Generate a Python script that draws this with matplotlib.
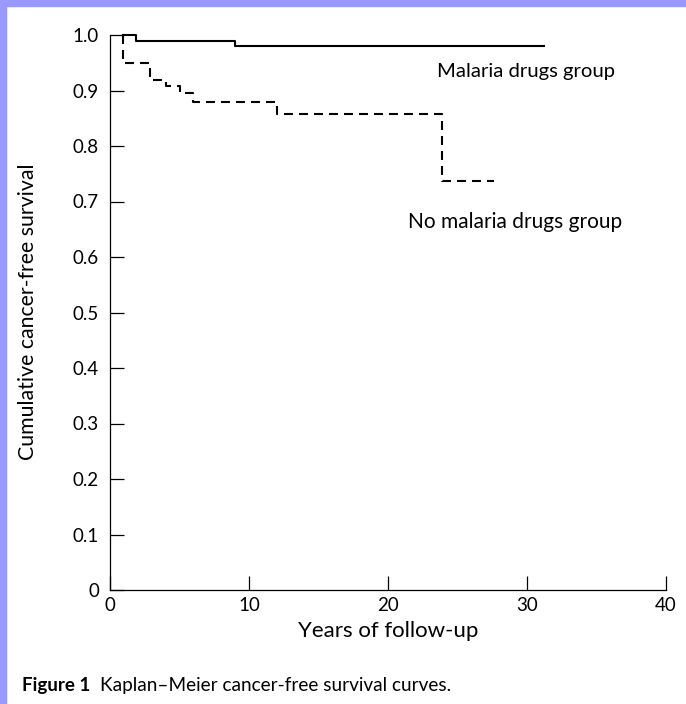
import matplotlib
matplotlib.use("Agg")
import matplotlib.pyplot as plt
from matplotlib.patches import Rectangle

# Data (Kaplan-Meier step points)
malaria_t = [0.9, 1.9, 9.0, 31.2]
malaria_s = [1.0, 0.99, 0.98, 0.98]

nomal_t = [0.95, 0.95, 2.9, 4.0, 5.0, 6.0, 12.0, 23.9, 27.6]
nomal_s = [1.0, 0.95, 0.919, 0.908, 0.895, 0.879, 0.858, 0.737, 0.737]

x_ticks = [0, 10, 20, 30, 40]
y_ticks = [0, 0.1, 0.2, 0.3, 0.4, 0.5, 0.6, 0.7, 0.8, 0.9, 1.0]
y_ticklabels = ["0", "0.1", "0.2", "0.3", "0.4", "0.5", "0.6", "0.7", "0.8", "0.9", "1.0"]

FONT = "Lato"
plt.rcParams['font.family'] = [FONT, 'DejaVu Sans']

fig = plt.figure(figsize=(6.86, 7.04), dpi=100)
fig.patch.set_facecolor("white")
border = "#9999ff"
fig.patches.append(Rectangle((0, 0), 6/686, 1, transform=fig.transFigure, color=border, zorder=0))
fig.patches.append(Rectangle((0, 1 - 6/704), 1, 6/704, transform=fig.transFigure, color=border, zorder=0))

ax = fig.add_axes([110/686, 114/704, 556/686, 555/704])
ax.set_xlim(0, 40)
ax.set_ylim(0, 1.0)
for s in ["top", "right"]:
    ax.spines[s].set_visible(False)
for s in ["left", "bottom"]:
    ax.spines[s].set_linewidth(0.9)

ax.step(malaria_t, malaria_s, where="post", color="black", lw=1.5, clip_on=False)
ax.step(nomal_t, nomal_s, where="post", color="black", lw=1.5,
        linestyle=(0, (4.3, 2.9)), clip_on=False)

ax.set_xticks(x_ticks)
ax.set_xticklabels([str(v) for v in x_ticks])
ax.set_yticks(y_ticks)
ax.set_yticklabels(y_ticklabels)
ax.tick_params(direction="in", length=10, width=0.9, labelsize=13.5, pad=8)
ax.tick_params(axis="x", pad=5)

ax.set_xlabel("Years of follow-up", fontsize=16)
ax.set_ylabel("Cumulative cancer-free survival", fontsize=15.3)
ax.xaxis.set_label_coords(0.5, (590 - 621) / 555)
ax.yaxis.set_label_coords((38 - 110) / 556, (590 - 312) / 555)

fig.text(437/686, 1 - 72/704, "Malaria drugs group",
         fontsize=14.6, va="center", ha="left")
fig.text(408/686, 1 - 222/704, "No malaria drugs group",
         fontsize=15, va="center", ha="left")

fig.text(22/686, 1 - 686/704, "Figure 1", fontsize=13.5, fontweight="bold", va="center", ha="left")
fig.text(100/686, 1 - 686/704, "Kaplan\u2013Meier cancer-free survival curves.", fontsize=13.7,
         va="center", ha="left")

fig.savefig("out.png", dpi=100, facecolor="white")
